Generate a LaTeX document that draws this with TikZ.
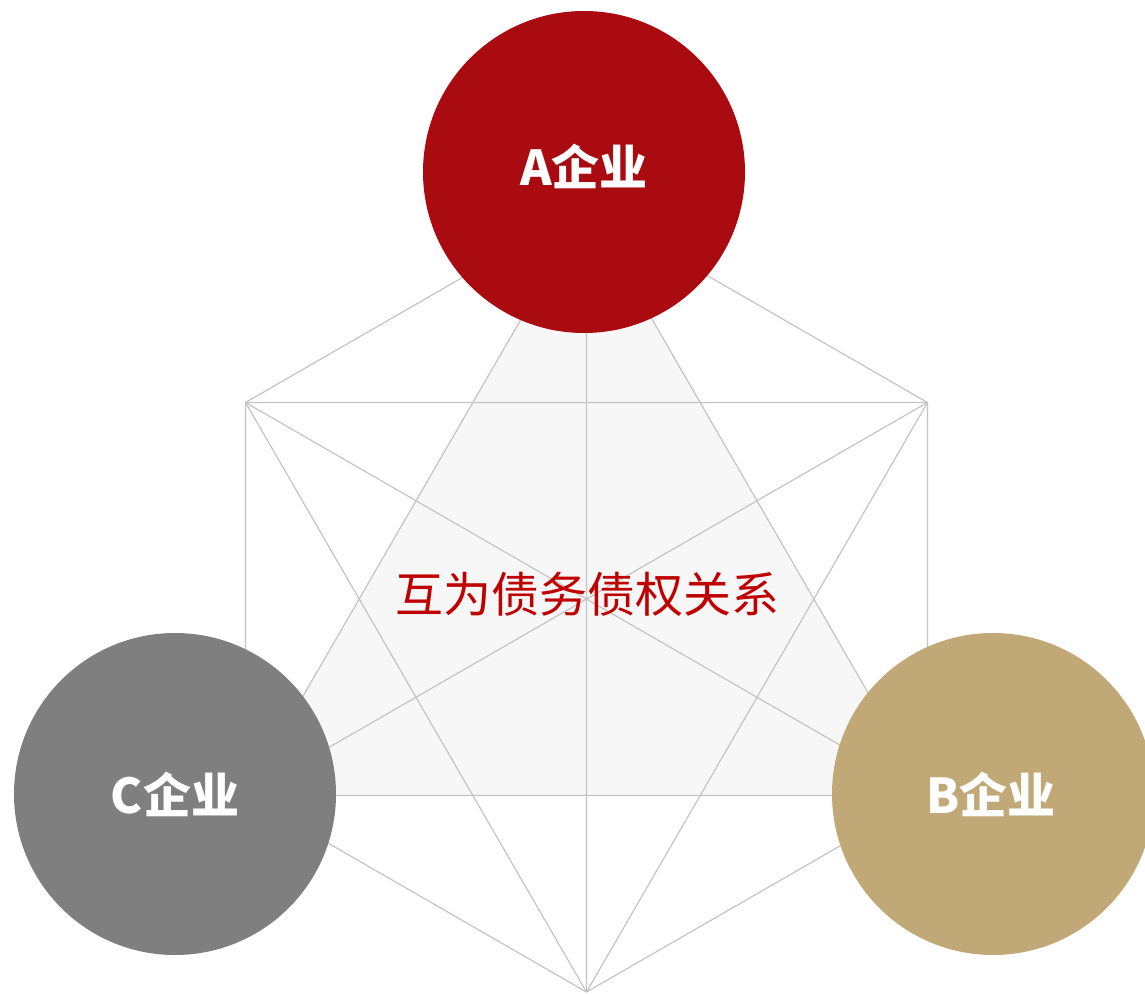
\documentclass[tikz,border=0pt]{standalone}
\usepackage{fontspec}
\newfontfamily\cjk{Noto Sans CJK SC}
\definecolor{lineGray}{HTML}{C4C4C4}
\definecolor{fillGray}{HTML}{F7F7F7}
\definecolor{aRed}{HTML}{AA0B11}
\definecolor{bGold}{HTML}{C1A877}
\definecolor{cGray}{HTML}{7F7F7F}
\definecolor{textRed}{HTML}{C00000}
\tikzset{
  edge/.style={draw=lineGray, line width=1.2pt},
  firm/.style={circle, minimum size=322pt, inner sep=0pt},
  firmtext/.style={text=white, inner sep=0pt, font=\cjk\bfseries\fontsize{48}{52}\selectfont},
}
\begin{document}
\begin{tikzpicture}[x=1pt, y=-1pt]
\useasboundingbox (0,0) rectangle (1145,995);
\fill[white] (0,0) rectangle (1145,995);
% hexagon vertices
\coordinate (T)  at (586.5,206);
\coordinate (UR) at (927.5,402.5);
\coordinate (LR) at (927.5,795.5);
\coordinate (Bo) at (586.5,992);
\coordinate (LL) at (245.5,795.5);
\coordinate (UL) at (245.5,402.5);
% shaded triangle
\fill[fillGray] (T) -- (LR) -- (LL) -- cycle;
% all connections
\draw[edge] (T) -- (UR) (UR) -- (LR) (LR) -- (Bo) (Bo) -- (LL) (LL) -- (UL) (UL) -- (T);
\draw[edge] (T) -- (LR) (LR) -- (LL) (LL) -- (T);
\draw[edge] (UL) -- (UR) (UR) -- (Bo) (Bo) -- (UL);
\draw[edge] (T) -- (Bo) (UL) -- (LR) (UR) -- (LL);
% companies
\node[firm, fill=aRed] (A) at (584,172) {};
\node[firm, fill=cGray] (C) at (175,794) {};
\node[firm, fill=bGold] (B) at (993,794) {};
\node[firmtext] (Alab) at (584,166) {A企业};
\node[firmtext] (Clab) at (175,794) {C企业};
\node[firmtext] (Blab) at (991,794) {B企业};
% centre text
\node[text=textRed, font=\cjk\fontsize{48}{52}\selectfont, inner sep=0pt] (mid) at (587,594) {互为债务债权关系};
\end{tikzpicture}
\end{document}
